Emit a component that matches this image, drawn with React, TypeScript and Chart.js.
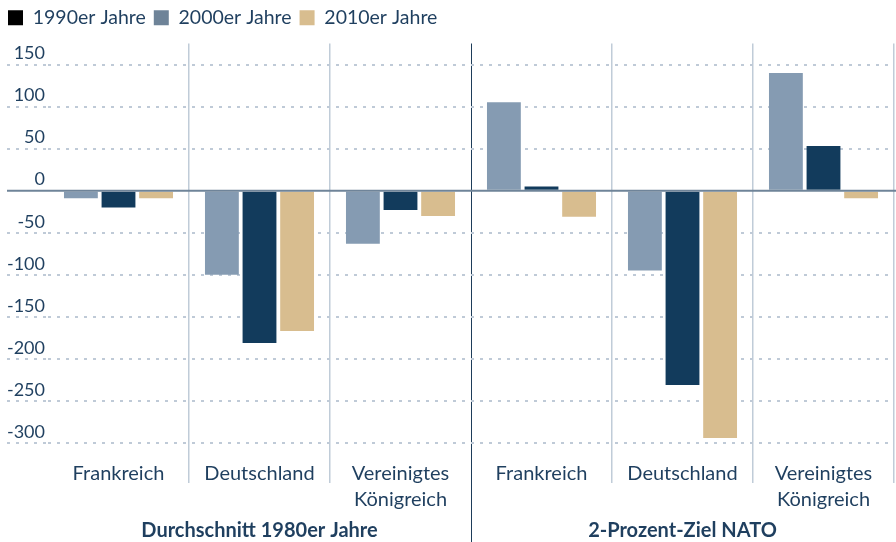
import React, { useEffect, useRef } from "react";
import { Chart, registerables } from "chart.js";

Chart.register(...registerables);

const categories: (string | string[])[] = [
  "Frankreich",
  "Deutschland",
  ["Vereinigtes", "Königreich"],
  "Frankreich",
  "Deutschland",
  ["Vereinigtes", "Königreich"],
];
const groupLabels = ["Durchschnitt 1980er Jahre", "2-Prozent-Ziel NATO"];
const legendLabels = ["1990er Jahre", "2000er Jahre", "2010er Jahre"];
const series2000 = [-9, -100, -63, 105, -95, 140];
const series1990 = [-20, -181, -23, 5, -231, 53];
const series2010 = [-9, -167, -30, -31, -294, -9];
const yTicks = [150, 100, 50, 0, -50, -100, -150, -200, -250, -300];

const TEXT = "#1f3f5f";
const NAVY = "#123b5c";
const GREYBLUE = "#859bb2";
const TAN = "#d8bd8f";

export default function App() {
  const ref = useRef<HTMLCanvasElement | null>(null);

  useEffect(() => {
    if (!ref.current) return;
    Chart.defaults.font.family = "Lato";

    const legendMargin = {
      id: "legendMargin",
      beforeInit(chart: any) {
        const legend = chart.legend;
        if (!legend) return;
        const origFit = legend.fit;
        legend.fit = function () {
          origFit.call(this);
          this.height += 6;
        };
      },
    };

    const overlay = {
      id: "overlay",
      afterDatasetsDraw(chart: any) {
        const { ctx, scales } = chart;
        const y = scales.y;
        const y0 = y.getPixelForValue(0);
        ctx.save();
        ctx.strokeStyle = "#6f8499";
        ctx.lineWidth = 2;
        ctx.beginPath();
        ctx.moveTo(7, y0);
        ctx.lineTo(chart.width, y0);
        ctx.stroke();
        ctx.restore();
      },
      afterDraw(chart: any) {
        const { ctx, scales, chartArea } = chart;
        const x = scales.x;
        const mid = (x.getPixelForValue(2) + x.getPixelForValue(3)) / 2;
        ctx.save();
        ctx.strokeStyle = "#1e3d5a";
        ctx.lineWidth = 1;
        ctx.beginPath();
        ctx.moveTo(Math.round(mid) + 0.5, chartArea.bottom);
        ctx.lineTo(Math.round(mid) + 0.5, chart.height);
        ctx.stroke();
        ctx.fillStyle = TEXT;
        ctx.font = "bold 20px Lato";
        ctx.textAlign = "center";
        ctx.textBaseline = "middle";
        const c1 = (x.getPixelForValue(0) + x.getPixelForValue(2)) / 2;
        const c2 = (x.getPixelForValue(3) + x.getPixelForValue(5)) / 2;
        ctx.fillText(groupLabels[0], c1, 531);
        ctx.fillText(groupLabels[1], c2, 531);
        ctx.restore();
      },
    };

    const chart = new Chart(ref.current, {
      type: "bar",
      data: {
        labels: categories as any,
        datasets: [
          { label: legendLabels[1], data: series2000, backgroundColor: GREYBLUE },
          { label: legendLabels[0], data: series1990, backgroundColor: NAVY },
          { label: legendLabels[2], data: series2010, backgroundColor: TAN },
        ],
      },
      options: {
        animation: false,
        responsive: true,
        maintainAspectRatio: false,
        layout: { padding: { left: 0, right: 2, top: 0, bottom: 0 } },
        datasets: { bar: { categoryPercentage: 0.8, barPercentage: 0.9 } },
        plugins: {
          tooltip: { enabled: false },
          legend: {
            position: "top",
            align: "start",
            labels: {
              boxWidth: 15,
              boxHeight: 15,
              padding: 8,
              color: TEXT,
              font: { size: 19.5 },
              generateLabels: () => [
                { text: legendLabels[0], fillStyle: "#000000", strokeStyle: "#000000", lineWidth: 0, fontColor: TEXT, datasetIndex: 1 },
                { text: legendLabels[1], fillStyle: "#6e8398", strokeStyle: "#6e8398", lineWidth: 0, fontColor: TEXT, datasetIndex: 0 },
                { text: legendLabels[2], fillStyle: TAN, strokeStyle: TAN, lineWidth: 0, fontColor: TEXT, datasetIndex: 2 },
              ] as any,
            },
          },
        },
        scales: {
          x: {
            afterFit(axis: any) {
              axis.height = 78;
            },
            border: { display: false },
            grid: {
              offset: true,
              drawOnChartArea: true,
              drawTicks: true,
              tickLength: 19,
              lineWidth: (c: any) => (c.index === 3 ? 1 : 1.5),
              color: (c: any) =>
                c.index === 0 || c.index === 6 ? "rgba(0,0,0,0)" : c.index === 3 ? "#1e3d5a" : "#c0ccd8",
            },
            ticks: {
              color: TEXT,
              font: { size: 20, lineHeight: 1.3 },
              padding: -22,
              maxRotation: 0,
              autoSkip: false,
            },
          },
          y: {
            min: -325,
            max: 175,
            afterFit(axis: any) {
              axis.width = 48;
            },
            afterBuildTicks(axis: any) {
              axis.ticks = yTicks.map((v) => ({ value: v }));
            },
            border: { display: false, dash: [3, 6] },
            grid: {
              color: (c: any) => (c.tick && c.tick.value === 0 ? "rgba(0,0,0,0)" : "#bfcad7"),
              lineWidth: 2,
              drawTicks: true,
              tickLength: 41,
              tickBorderDash: [3, 6],
              tickColor: (c: any) => (c.tick && c.tick.value === 0 ? "rgba(0,0,0,0)" : "#bfcad7"),
              tickWidth: 2,
            },
            ticks: {
              color: TEXT,
              font: { size: 18 },
              padding: -38,
              labelOffset: -11,
            },
          },
        },
      },
      plugins: [legendMargin, overlay],
    });
    return () => chart.destroy();
  }, []);

  return (
    <div style={{ position: "absolute", left: 0, top: 0, width: 896, height: 542 }}>
      <canvas ref={ref} />
    </div>
  );
}
